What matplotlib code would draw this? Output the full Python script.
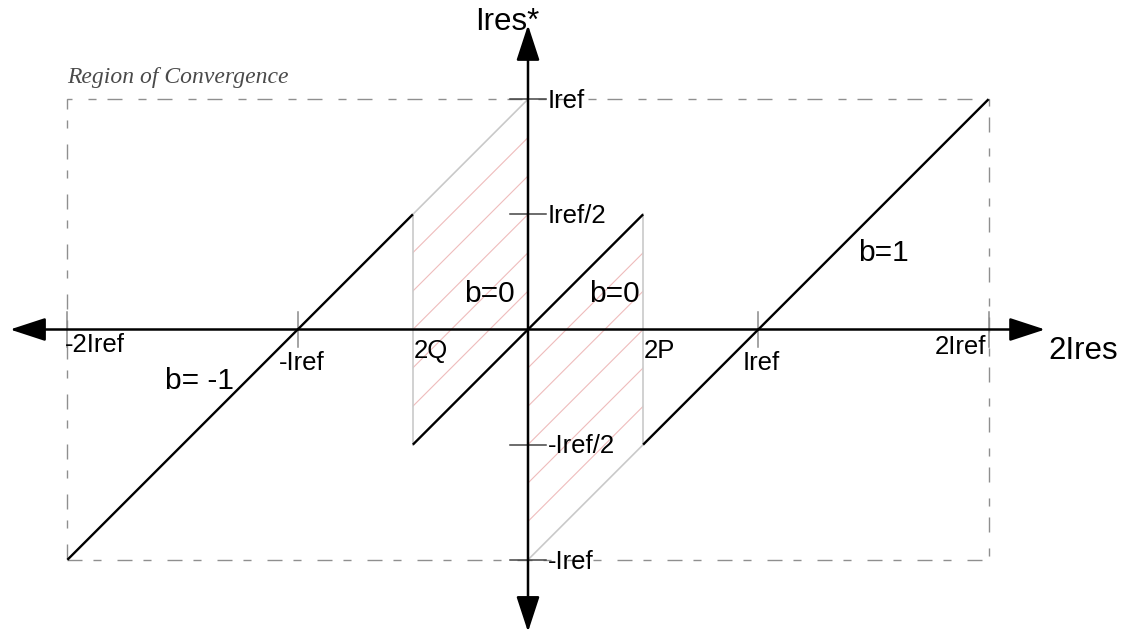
import numpy as np
import matplotlib
matplotlib.use("Agg")
import matplotlib.pyplot as plt
from matplotlib.patches import Polygon, Rectangle

# everything is in units of Iref: x axis is 2Ires, y axis is Ires*
b_values = [-1, 0, 1]
b_segments = [(-2.0, -0.5), (-0.5, 0.5), (0.5, 2.0)]
q_edge, p_edge = -0.5, 0.5          # 2Q and 2P
conv_x = (-2.0, 2.0)                # region of convergence
conv_y = (-1.0, 1.0)
hatch_step = 1 / 6

x_ticks = [-2.0, -1.0, 1.0, 2.0]
x_tick_labels = ["-2Iref", "-Iref", "Iref", "2Iref"]
y_ticks = [1.0, 0.5, -0.5, -1.0]
y_tick_labels = ["Iref", "Iref/2", "-Iref/2", "-Iref"]

plt.rcParams['font.family'] = ['Liberation Sans', 'DejaVu Sans']

fig = plt.figure(figsize=(11.25, 6.39), dpi=100)
ax = fig.add_axes([0, 0, 1, 1])
ax.set_xlim(-2.2927, 2.5923)
ax.set_ylim(-1.3439, 1.4307)
ax.axis('off')

grey = '#c9c9c9'
pink = '#efbcbc'

# shaded zones where b=0 is ambiguous
left_zone = [(q_edge, q_edge), (q_edge, q_edge + 1), (0, 1), (0, 0)]
right_zone = [(0, -1), (0, 0), (p_edge, p_edge), (p_edge, p_edge - 1)]
for zone, offsets in [(left_zone, np.arange(1, 6) * hatch_step),
                      (right_zone, -np.arange(1, 6) * hatch_step)]:
    clip = Polygon(zone, closed=True, facecolor='none', edgecolor='none')
    ax.add_patch(clip)
    xs = np.array([-1.5, 1.5])
    for c in offsets:
        ln, = ax.plot(xs, xs + c, color=pink, lw=0.8, zorder=1)
        ln.set_clip_path(clip)

# grey borders of the shaded zones
ax.plot([q_edge, q_edge], [q_edge, q_edge + 1], color=grey, lw=1.2, zorder=2)
ax.plot([q_edge, 0], [q_edge + 1, 1], color=grey, lw=1.2, zorder=2)
ax.plot([p_edge, p_edge], [p_edge - 1, p_edge], color=grey, lw=1.2, zorder=2)
ax.plot([0, p_edge], [-1, p_edge - 1], color=grey, lw=1.2, zorder=2)

# dashed region of convergence
ax.add_patch(Rectangle((conv_x[0], conv_y[0]), conv_x[1] - conv_x[0], conv_y[1] - conv_y[0],
                       fill=False, edgecolor='#8f8f8f', lw=1.0,
                       linestyle=(0, (10.8, 7.9, 5.8, 11.5)), zorder=2))
ax.text(conv_x[0], 1.096, "Region of Convergence", family='Liberation Serif',
        style='italic', fontsize=17, color='#4a4a4a', ha='left', va='center')

# tick marks
for xt in x_ticks:
    ax.plot([xt, xt], [-0.075, 0.075], color='#8a8a8a', lw=1.1, zorder=3)
for yt in y_ticks:
    ax.plot([-0.08, 0.08], [yt, yt], color='#444444', lw=1.1, zorder=3)

# axes with arrow heads
arrow = dict(arrowstyle='-|>,head_length=2.2,head_width=0.72', mutation_scale=10,
             color='black', lw=1.8, shrinkA=0, shrinkB=0)
for tip in [(-2.249, 0), (2.245, 0), (0, 1.322), (0, -1.313)]:
    ax.annotate('', xy=tip, xytext=(0, 0), arrowprops=arrow, zorder=4)

# Ires* = 2Ires - b*Iref
for b, (x0, x1) in zip(b_values, b_segments):
    xs = np.array([x0, x1])
    ax.plot(xs, xs - b, color='black', lw=1.7, solid_capstyle='butt', zorder=5)

# labels
fs_tick = 18.5
x_label_pos = {"-2Iref": (-2.012, -0.068, 'left'), "-Iref": (-1.083, -0.146, 'left'),
               "Iref": (0.934, -0.146, 'left'), "2Iref": (1.99, -0.075, 'right')}
for lab in x_tick_labels:
    x, y, ha = x_label_pos[lab]
    ax.text(x, y, lab, fontsize=fs_tick, ha=ha, va='center')
ax.text(q_edge + 0.004, -0.095, "2Q", fontsize=fs_tick, ha='left', va='center')
ax.text(p_edge + 0.004, -0.095, "2P", fontsize=fs_tick, ha='left', va='center')
for yt, lab in zip(y_ticks, y_tick_labels):
    ax.text(0.087, yt - 0.008, lab, fontsize=fs_tick, ha='left', va='center')

fs_b = 21.5
ax.text(-1.576, -0.225, "b= -1", fontsize=fs_b, ha='left', va='center')
ax.text(-0.056, 0.156, "b=0", fontsize=fs_b, ha='right', va='center')
ax.text(0.486, 0.156, "b=0", fontsize=fs_b, ha='right', va='center')
ax.text(1.433, 0.33, "b=1", fontsize=fs_b, ha='left', va='center')

ax.text(0.048, 1.335, "Ires*", fontsize=22.5, ha='right', va='center')
ax.text(2.258, -0.095, "2Ires", fontsize=22.5, ha='left', va='center')

fig.savefig("out.png", dpi=100, facecolor='white')
